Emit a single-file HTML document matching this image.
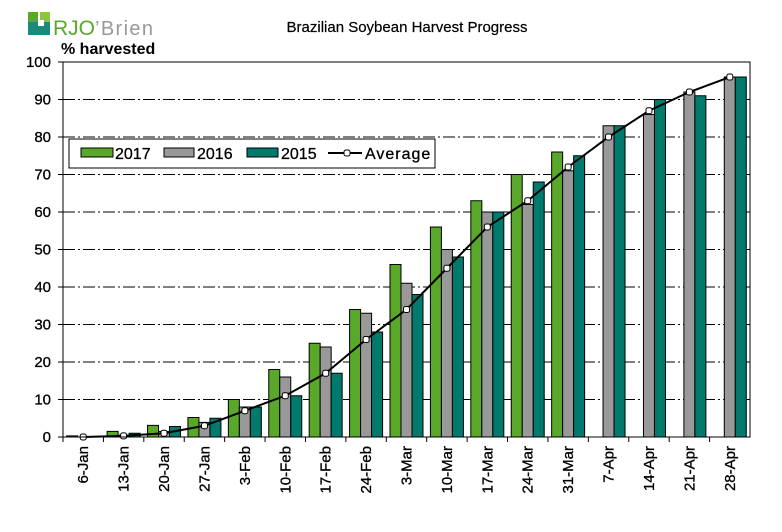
<!DOCTYPE html>
<html><head><meta charset="utf-8"><style>
body{margin:0;background:#fff;}
svg text{font-family:"Liberation Sans",Arial,sans-serif;}
</style></head><body>
<svg id="chart" width="782" height="527" viewBox="0 0 782 527" xmlns="http://www.w3.org/2000/svg">
<g>
<rect x="28" y="12" width="10" height="10" fill="#5aa829"/>
<rect x="28" y="22" width="22" height="13" fill="#1a8a7a"/>
<rect x="40" y="12" width="10" height="10" fill="#8cc63f"/>
<rect x="38" y="20" width="6" height="6" fill="#fff"/>
<text x="53" y="35" font-size="21" fill="#5aa829" font-family="Liberation Serif, serif">RJO</text>
<text x="95" y="35" font-size="20" fill="#999" font-family="Liberation Sans, sans-serif" textLength="58">’Brien</text>
</g>
<text x="407" y="32" font-size="15" text-anchor="middle" stroke="#000" stroke-width="0.2">Brazilian Soybean Harvest Progress</text>
<text x="61" y="54" font-size="16" font-weight="bold">% harvested</text>
<g id="grid"></g><g id="bars"></g><g id="line"></g><g id="axes"></g>
<g>
<rect x="69" y="139" width="366" height="29" fill="#fff" stroke="#000" stroke-width="1"/>
<rect x="81" y="148" width="32" height="9" fill="#5aa829" stroke="#000"/>
<text x="115" y="159" font-size="16" stroke="#000" stroke-width="0.3">2017</text>
<rect x="164" y="148" width="30" height="9" fill="#999" stroke="#000"/>
<text x="197" y="159" font-size="16" stroke="#000" stroke-width="0.3">2016</text>
<rect x="247" y="148" width="31" height="9" fill="#007a6c" stroke="#000"/>
<text x="281" y="159" font-size="16" stroke="#000" stroke-width="0.3">2015</text>
<line x1="328" y1="153" x2="362" y2="153" stroke="#000" stroke-width="2"/>
<rect x="344" y="150" width="6" height="6" rx="2" fill="#fff" stroke="#000"/>
<text x="365" y="159" font-size="16" letter-spacing="1" stroke="#000" stroke-width="0.3">Average</text>
</g>
</svg>
<script>
const categories=["6-Jan","13-Jan","20-Jan","27-Jan","3-Feb","10-Feb","17-Feb","24-Feb","3-Mar","10-Mar","17-Mar","24-Mar","31-Mar","7-Apr","14-Apr","21-Apr","28-Apr"];
const s2017=[0.3,1.5,3.1,5.2,10,18,25,34,46,56,63,70,76,null,null,null,null];
const s2016=[0,0.5,1.5,3.9,8,16,24,33,41,50,60,62,71,83,86,92,96];
const s2015=[0,1,2.8,5,8,11,17,28,38,48,60,68,75,83,90,91,96];
const average=[0,0.3,1,3,7,11,17,26,34,45,56,63,72,80,87,92,96];
const yTicks=[0,10,20,30,40,50,60,70,80,90,100];
const NS="http://www.w3.org/2000/svg";
const L=63,R=750,T=62,B=437;
const cw=(R-L)/categories.length;
const y=v=>B-(v/100)*(B-T);
const x=i=>L+i*cw;
function mk(tag,attrs,parent){const e=document.createElementNS(NS,tag);for(const k in attrs)e.setAttribute(k,attrs[k]);document.getElementById(parent).appendChild(e);return e;}
yTicks.forEach(t=>{
 if(t>0&&t<100){const g=mk('line',{x1:L,x2:R,y1:y(t),y2:y(t),stroke:'#000','stroke-dasharray':'12,3,2,3'},'grid');
 
 }
 const tk=mk('line',{x1:L-5,x2:L,y1:y(t),y2:y(t),stroke:'#000'},'axes');
 
 
 const lb=mk('text',{x:L-12,y:y(t)+5,'font-size':15,'text-anchor':'end',stroke:'#000','stroke-width':0.3},'axes');lb.textContent=t;
 
 
});
const series=[[s2017,'#5aa829','2017'],[s2016,'#999999','2016'],[s2015,'#007a6c','2015']];
const bw=11,off=3.7;
categories.forEach((c,i)=>{
 series.forEach((s,j)=>{const v=s[0][i];if(v==null||v<=0)return;
  const r=mk('rect',{x:x(i)+off+j*bw,y:y(v),width:bw,height:B-y(v),fill:s[1],stroke:'#000','stroke-width':1},'bars');
  
  });
 const tk=mk('line',{x1:x(i),x2:x(i),y1:B,y2:B+5,stroke:'#000'},'axes');
 
 
 const cx=x(i)+cw/2;
 const lb=mk('text',{x:0,y:0,'font-size':15,'text-anchor':'end',stroke:'#000','stroke-width':0.3,transform:`translate(${cx+5},${B+9}) rotate(-90)`},'axes');lb.textContent=c;
 
 
});
const pts=average.map((v,i)=>[x(i)+cw/2,y(v)]);
const pl=mk('polyline',{points:pts.map(p=>p.join(',')).join(' '),fill:'none',stroke:'#000','stroke-width':2},'line');


pts.forEach(p=>{const m=mk('rect',{x:p[0]-3,y:p[1]-3,width:6,height:6,rx:2,fill:'#fff',stroke:'#000'},'line');
 
 });
const fr=mk('rect',{x:L,y:T,width:R-L,height:B-T,fill:'none',stroke:'#000'},'axes');


</script>
</body></html>
